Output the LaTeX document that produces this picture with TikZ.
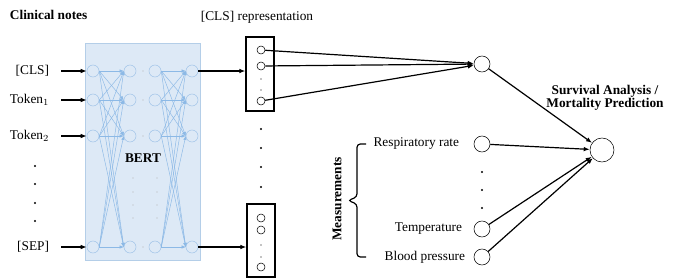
\documentclass[tikz,border=0pt]{standalone}
\usepackage{fontspec}
\setmainfont{Liberation Serif}
\usetikzlibrary{arrows.meta,positioning}
\definecolor{btfill}{RGB}{221,233,246}
\definecolor{btedge}{RGB}{180,206,232}
\definecolor{btunit}{RGB}{160,196,232}
\definecolor{btwire}{RGB}{140,185,230}

\begin{document}
\begin{tikzpicture}[
  x=0.75pt, y=-0.75pt,
  lbl/.style={inner sep=2pt},
  head/.style={lbl, font=\bfseries},
  unit/.style={circle, draw=btunit, fill=btfill, minimum size=9pt, inner sep=0pt},
  cell/.style={circle, draw, thin, minimum size=6pt, inner sep=0pt},
  neuron/.style={circle, draw, minimum size=12pt, inner sep=0pt},
  dotn/.style={circle, fill, inner sep=0pt, minimum size=1.6pt},
  tiny/.style={circle, fill=gray!60, inner sep=0pt, minimum size=0.8pt},
  arr/.style={-{Latex[length=4.5pt,width=3.5pt]}, line width=0.9pt},
  wire/.style={-{Latex[length=3pt,width=2.5pt]}, btwire, line width=0.35pt},
  vec/.style={draw, line width=1pt, minimum width=21pt, inner sep=0pt}
]
\useasboundingbox (0,0) rectangle (676,279);

\node[head, anchor=west] (notes) at (7,15) {Clinical notes};
\node[lbl] (clsrep) at (257,17) {[CLS] representation};

% BERT block
\node[draw=btedge, fill=btfill, minimum width=86.25pt, minimum height=162.75pt] (bert) at (142.5,151.5) {};
\foreach \c/\x in {1/93,2/130,3/155,4/192}
  \foreach \r/\y in {1/71,2/100,3/136,4/247}
    \node[unit] (u\c\r) at (\x,\y) {};
\foreach \r in {1,...,4}
  \foreach \s in {1,...,4} {
    \draw[wire] (u1\r.east) -- (u2\s.west);
    \draw[wire] (u3\r.east) -- (u4\s.west);
  }
\foreach \y [count=\k] in {71,100,136,247}
  \node[tiny] (hd\k) at (143,\y) {};
\foreach \y [count=\k] in {178,192,205,218} {
  \node[tiny] (va\k) at (133,\y) {};
  \node[tiny] (vb\k) at (157,\y) {};
}
\node[head] (bertlbl) at (143,158) {BERT};

% tokens
\node[lbl, anchor=east] (cls) at (52,71) {[CLS]};
\node[lbl, anchor=east] (tok1) at (52,100) {Token$_1$};
\node[lbl, anchor=east] (tok2) at (52,136) {Token$_2$};
\node[lbl, anchor=east] (sep) at (52,247) {[SEP]};
\foreach \y [count=\k] in {166,184,203,221}
  \node[dotn] (id\k) at (35,\y) {};
\draw[arr, shorten <=7pt] (cls.east) -- (u11.west);
\draw[arr, shorten <=7pt] (tok1.east) -- (u12.west);
\draw[arr, shorten <=7pt] (tok2.east) -- (u13.west);
\draw[arr, shorten <=7pt] (sep.east) -- (u14.west);

% [CLS] vectors
\node[vec, minimum height=55.5pt] (cvec) at (260,74) {};
\node[vec, minimum height=54.75pt] (svec) at (261,240.5) {};
\foreach \y [count=\k] in {50,66,101}
  \node[cell] (c\k) at (261,\y) {};
\foreach \y [count=\k] in {218,230,267}
  \node[cell] (s\k) at (261,\y) {};
\foreach \y [count=\k] in {79,90}
  \node[tiny, fill=black] (ct\k) at (261,\y) {};
\foreach \y [count=\k] in {245,257}
  \node[tiny, fill=black] (st\k) at (261,\y) {};
\foreach \y [count=\k] in {129,148,167,187}
  \node[dotn] (vd\k) at (261,\y) {};
\draw[arr] (u41) -- (u41 -| cvec.west);
\draw[arr] (u44) -- (u44 -| svec.west);

% text branch
\node[neuron] (agg) at (482,64) {};
\foreach \k in {1,2,3}
  \draw[arr] (c\k) -- (agg);

% measurements
\node[neuron] (m1) at (482,144) {};
\node[neuron] (m2) at (482,229) {};
\node[neuron] (m3) at (482,257) {};
\node[lbl, anchor=east] (resp) at (462,144) {Respiratory rate};
\node[lbl, anchor=east] (temp) at (465,229) {Temperature};
\node[lbl, anchor=east] (bp) at (468,257) {Blood pressure};
\foreach \y [count=\k] in {172,190,208}
  \node[dotn] (md\k) at (482,\y) {};
\coordinate (bt) at (366,144);
\coordinate (bb) at (366,257);
\draw[line width=0.9pt, rounded corners=2.5pt]
  (bt) -- (357,144) -- (357,197) -- (348,200.5) -- (357,204) -- (357,257) -- (bb);
\node[head, rotate=90] (meas) at (337,199) {Measurements};

% prediction
\node[circle, draw, minimum size=18pt, inner sep=0pt] (out) at (602,150) {};
\foreach \n in {agg,m1,m2,m3}
  \draw[arr] (\n) -- (out);
\node[head, align=center] (task) at (605,98) {Survival Analysis /\\[-2.5pt]Mortality Prediction};
\end{tikzpicture}
\end{document}
